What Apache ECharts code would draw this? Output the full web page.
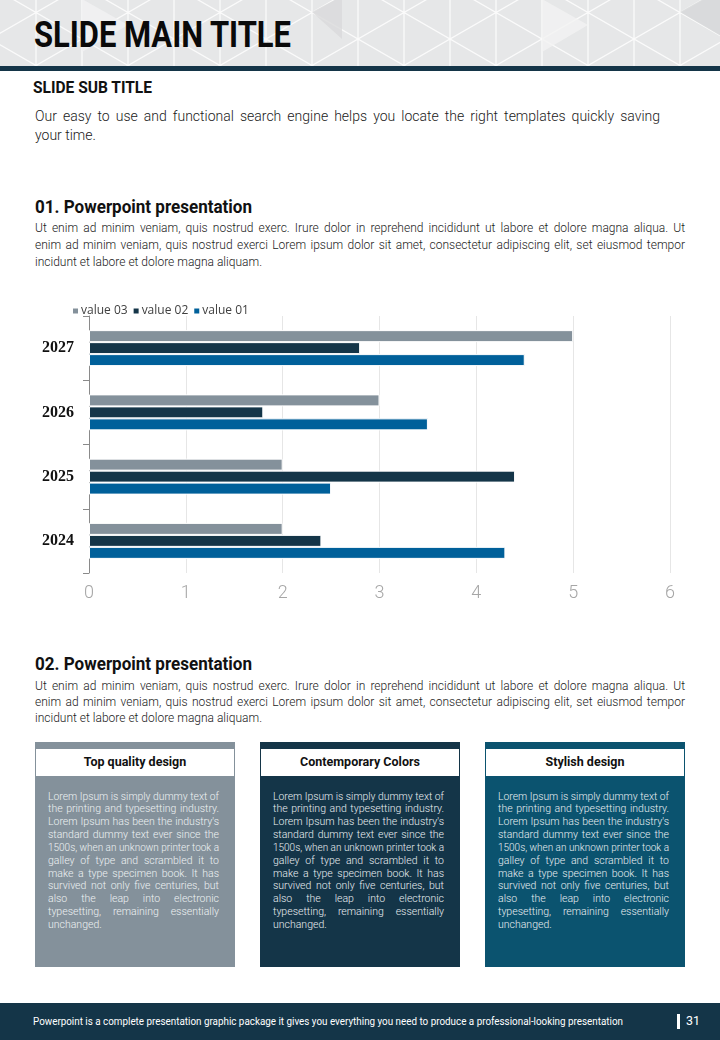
<!DOCTYPE html>
<html><head><meta charset="utf-8">
<script src="https://cdn.jsdelivr.net/npm/echarts@6/dist/echarts.min.js"></script>
<style>
html,body{margin:0;padding:0;background:#fff;}
#page{position:relative;width:720px;height:1040px;overflow:hidden;font-family:Roboto,"DejaVu Sans",sans-serif;}
.t{position:absolute;white-space:nowrap;}
#header{position:absolute;left:0;top:0;width:720px;height:66px;}
#hbar{position:absolute;left:0;top:66px;width:720px;height:5px;background:#143548;}
.box{position:absolute;top:742px;width:200px;height:225px;}
.boxhead{position:absolute;left:1px;top:7px;width:198px;height:27px;background:#fff;}
#footer{position:absolute;left:0;top:1003px;width:720px;height:37px;background:#143548;}
#chart{position:absolute;left:0;top:290px;width:720px;height:330px;}
</style></head>
<body><div id="page">
<svg id="header" width="720" height="66" xmlns="http://www.w3.org/2000/svg">
<defs><pattern id="tri" x="-10" y="-14" width="92" height="53" patternUnits="userSpaceOnUse">
<rect width="92" height="53" fill="#e6e7e8"/>
<path d="M0 0V53M46 0V53M92 0V53M0 0L92 53M0 53L92 0" stroke="#fbfbfb" stroke-width="1.3" fill="none"/>
</pattern></defs>
<rect width="720" height="66" fill="url(#tri)"/>
<polygon points="312,12 342,-4 342,39" fill="#d9dadb" opacity="0.8"/>
<polygon points="680,12 726,-14 726,39" fill="#d6d7d8" opacity="0.8"/>
<polygon points="82,-1 128,25 82,52" fill="#f1f1f2" opacity="0.9"/>
<polygon points="542,-1 588,25 542,52" fill="#f2f2f3" opacity="0.8"/>
</svg>
<div id="hbar"></div>
<div id="chart"></div>
<div id="footer"></div>
</div>
<script>
// ---------- data ----------
const categories = ["2024", "2025", "2026", "2027"];
const value01 = [4.3, 2.5, 3.5, 4.5];
const value02 = [2.4, 4.4, 1.8, 2.8];
const value03 = [2.0, 2.0, 3.0, 5.0];
const seriesNames = ["value 03", "value 02", "value 01"];
const xTicks = [0, 1, 2, 3, 4, 5, 6];

const paraLines = [
 "Ut enim ad minim veniam, quis nostrud exerc. Irure dolor in reprehend incididunt ut labore et dolore magna aliqua. Ut",
 "enim ad minim veniam, quis nostrud exerci  Lorem ipsum dolor sit amet, consectetur adipiscing elit, set eiusmod tempor",
 "incidunt et labore et dolore magna aliquam."
];
const boxLines = [
 "Lorem Ipsum is simply dummy text of",
 "the printing and typesetting industry.",
 "Lorem Ipsum has been the industry's",
 "standard dummy text ever since the",
 "1500s, when an unknown printer took a",
 "galley of type and scrambled it to",
 "make a type specimen book. It has",
 "survived not only five centuries, but",
 "also the leap into electronic",
 "typesetting, remaining essentially",
 "unchanged."
];
const boxTitles = ["Top quality design", "Contemporary Colors", "Stylish design"];

// ---------- text helpers ----------
const page = document.getElementById('page');
function addText(txt, x, cy, opts){
  const o = Object.assign({size:12, weight:400, color:'#222', lh:null, family:'Roboto, sans-serif', width:null, justify:false, align:'left'}, opts||{});
  const lh = o.lh || Math.round(o.size*1.3);
  const el = document.createElement('div');
  el.className = 't';
  el.textContent = txt;
  el.style.fontSize = o.size+'px';
  el.style.fontWeight = o.weight;
  el.style.color = o.color;
  el.style.fontFamily = o.family;
  el.style.lineHeight = lh+'px';
  el.style.top = (cy - lh/2)+'px';
  el.style.left = x+'px';
  (o.parent||page).appendChild(el);
  if (o.width){
    const w = el.getBoundingClientRect().width;
    if (w > o.width){
      el.style.transformOrigin = o.align==='center' ? 'center' : 'left';
      el.style.transform = 'scaleX('+(o.width/w)+')';
    } else if (o.justify){
      const n = (txt.replace(/\s+/g,' ').match(/ /g)||[]).length;
      if (n) el.style.wordSpacing = ((o.width-w)/n)+'px';
    }
    if (o.align==='center'){
      el.style.left = (x - w/2)+'px';
    }
  } else if (o.align==='center'){
    const w = el.getBoundingClientRect().width;
    el.style.left = (x - w/2)+'px';
  }
  return el;
}
function addPara(lines, x, cy0, lh, width, opts){
  lines.forEach((l,i)=>{
    addText(l, x, cy0 + i*lh, Object.assign({}, opts, {lh:lh, width:width, justify: i < lines.length-1}));
  });
}

// header texts
addText("SLIDE MAIN TITLE", 34, 35, {size:36, weight:700, color:'#0a0a0a', lh:40, width:257});
addText("SLIDE SUB TITLE", 33, 87, {size:17, weight:700, color:'#111', lh:20, width:119});
addText("Our easy to use and functional search engine helps you locate the right templates quickly saving", 35, 116, {size:14, weight:300, color:'#1a1a1a', lh:18, width:625, justify:true});
addText("your time.", 35, 135, {size:14, weight:300, color:'#1a1a1a', lh:18});

addText("01. Powerpoint presentation", 35, 207, {size:18, weight:700, color:'#111', lh:22, width:217});
addPara(paraLines, 35, 228.5, 17, 650, {size:12, weight:300, color:'#222'});

addText("02. Powerpoint presentation", 35, 664, {size:18, weight:700, color:'#111', lh:22, width:217});
addPara(paraLines, 35, 687, 15.7, 650, {size:12, weight:300, color:'#222'});

// boxes
const boxColors = ["#84919b", "#143548", "#0b536f"];
const boxX = [35, 260, 485];
const titleW = [106, 122, 80];
boxX.forEach((bx, i)=>{
  const b = document.createElement('div');
  b.className='box'; b.style.left = bx+'px'; b.style.background = boxColors[i];
  const h = document.createElement('div'); h.className='boxhead'; b.appendChild(h);
  page.appendChild(b);
  addText(boxTitles[i], bx+100, 762, {size:12.5, weight:700, color:'#111', lh:16, width:titleW[i], align:'center'});
  addPara(boxLines, bx+13, 797, 12.83, 171, {size:10.5, weight:300, color: i===0 ? '#eef1f3' : '#e9eef1'});
});

// footer
addText("Powerpoint is a complete presentation graphic package it gives you everything you need to produce a professional-looking presentation", 33, 1022, {size:10, weight:400, color:'#ffffff', lh:14, width:590});
const vb = document.createElement('div');
vb.style.cssText='position:absolute;left:677px;top:1014px;width:3px;height:15px;background:#fff;';
page.appendChild(vb);
addText("31", 686, 1021, {size:12.5, weight:400, color:'#ffffff', lh:16});

// ---------- chart ----------
const chart = echarts.init(document.getElementById('chart'), null, {renderer:'canvas'});
const colors = {"value 01":"#00609a", "value 02":"#143548", "value 03":"#84919b"};
const seriesData = {"value 01": value01, "value 02": value02, "value 03": value03};
chart.setOption({
  animation:false,
  grid:{left:89, width:581, top:26, height:257, containLabel:false},
  legend:{
    data: seriesNames, left:66, top:10, icon:'rect', itemWidth:7, itemHeight:7, itemGap:4,
    textStyle:{fontFamily:'"Open Sans", sans-serif', fontSize:12, color:'#404040', padding:[0,0,0,-3]}
  },
  xAxis:{
    type:'value', min:0, max:6, interval:1,
    axisLine:{show:false}, axisTick:{show:false},
    splitLine:{show:true, lineStyle:{color:'#e6e6e6', width:1}},
    axisLabel:{color:'#a6a6a6', fontSize:18, fontFamily:'Roboto, sans-serif', fontWeight:300, margin:11,
      formatter: v => xTicks.includes(v) ? String(v) : ''}
  },
  yAxis:{
    type:'category', data: categories,
    axisLine:{show:true, lineStyle:{color:'#8a8a8a', width:1}},
    axisTick:{show:true, length:6, lineStyle:{color:'#8a8a8a'}},
    axisLabel:{color:'#111', fontSize:16, fontWeight:'bold', fontFamily:'"Liberation Serif", serif', margin:15}
  },
  series: seriesNames.map(n => ({
    name:n, type:'bar', data: seriesData[n],
    barCategoryGap:'44%', barGap:'0%',
    itemStyle:{color:colors[n], borderColor:'#ffffff', borderWidth:1}
  }))
});
</script>
</body></html>
